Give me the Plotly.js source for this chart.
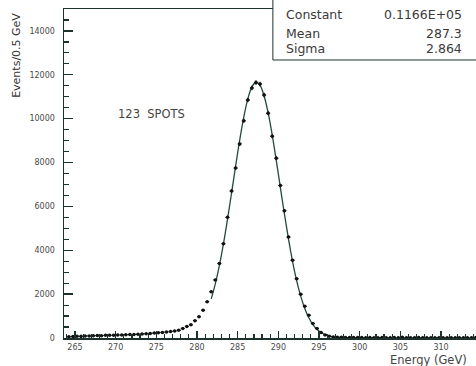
<!DOCTYPE html>
<html>
<head>
<meta charset="utf-8">
<script src="https://cdn.plot.ly/plotly-3.0.1.min.js"></script>
<style>html,body{margin:0;padding:0;background:#fff;}#chart{width:476px;height:366px;}</style>
</head>
<body>
<div id="chart"></div>
<script>
// Histogram bin centres (GeV) and counts per 0.5 GeV
const binCenters = [264.25,264.75,265.25,265.75,266.25,266.75,267.25,267.75,268.25,268.75,
  269.25,269.75,270.25,270.75,271.25,271.75,272.25,272.75,273.25,273.75,
  274.25,274.75,275.25,275.75,276.25,276.75,277.25,277.75,278.25,278.75,
  279.25,279.75,280.25,280.75,281.25,281.75,282.25,282.75,283.25,283.75,
  284.25,284.75,285.25,285.75,286.25,286.75,287.25,287.75,288.25,288.75,
  289.25,289.75,290.25,290.75,291.25,291.75,292.25,292.75,293.25,293.75,
  294.25,294.75,295.25,295.75,296.25,296.75,297.25,297.75,298.25,298.75,
  299.25,299.75,300.25,300.75,301.25,301.75,302.25,302.75,303.25,303.75,
  304.25,304.75,305.25,305.75,306.25,306.75,307.25,307.75,308.25,308.75,
  309.25,309.75,310.25,310.75,311.25,311.75,312.25,312.75,313.25,313.75,314.25];
const counts = [60,70,80,75,90,95,100,110,105,120,
  125,130,140,135,150,155,165,170,185,195,
  210,225,240,255,275,295,320,355,430,530,
  600,790,970,1270,1650,2110,2650,3400,4300,5500,
  6700,7750,8850,9900,10850,11400,11650,11580,11080,10250,
  9200,8200,6950,5800,4600,3550,2700,2000,1450,1040,
  660,430,250,140,80,50,35,30,25,20,
  22,18,20,15,18,16,14,20,15,12,
  18,14,30,16,12,14,25,12,10,14,
  12,10,11,9,12,10,8,10,9,8,10];

// Fitted curve
const fitX = [281.75,282.25,282.75,283.25,283.75,284.25,284.75,285.25,285.75,286.25,
  286.75,287.25,287.75,288.25,288.75,289.25,289.75,290.25,290.75,291.25,
  291.75,292.25,292.75,293.25,293.75,294.25,294.75,295.25,295.75,296.25,297.0,298.0,300.0];
const fitY = [1783,2465,3300,4290,5410,6615,7845,9025,10070,10900,
  11450,11660,11520,11035,10260,9250,8085,6860,5645,4505,
  3487,2620,1907,1348,924,614,396,247,150,88,40,12,0];

// Fit statistics
const statNames = ["Constant","Mean","Sigma"];
const statValues = ["0.1166E+05","287.3","2.864"];

const frameColor = "#1a332c";
const textColor = "#4a4a4a";
const tickFont = {family:"DejaVu Sans", size:8, color:textColor};

const traces = [
  {
    x: fitX, y: fitY, type:"scatter", mode:"lines",
    line:{color:"#234a3d", width:1.3, shape:"spline"},
    hoverinfo:"skip"
  },
  {
    x: binCenters, y: counts, type:"scatter", mode:"markers",
    marker:{color:"#111", size:3.5},
    error_y:{type:"sqrt", visible:true, color:"#111", thickness:1, width:0},
    error_x:{type:"constant", value:0.25, visible:true, color:"#111", thickness:1, width:0}
  }
];

const statShapes = [{
  type:"rect", xref:"paper", yref:"paper",
  x0:0.507, x1:1.05, y0:0.845, y1:1.06,
  fillcolor:"#fff", line:{color:frameColor, width:1}, layer:"above"
}];

const statFont = {family:"DejaVu Sans", size:12.5, color:"#3a3a3a"};
const annotations = [
  {text:"Events/0.5 GeV", xref:"paper", yref:"paper", x:-0.117, y:0.86,
   textangle:-90, showarrow:false, xanchor:"center", yanchor:"middle",
   font:{family:"DejaVu Sans", size:11, color:"#333"}},
  {text:"Energy (GeV)", xref:"paper", yref:"paper", x:0.885, y:-0.066,
   showarrow:false, xanchor:"center", yanchor:"middle",
   font:{family:"DejaVu Sans", size:11.5, color:"#444"}},
  {text:"123  SPOTS", xref:"paper", yref:"paper", x:0.213, y:0.681,
   showarrow:false, xanchor:"center", yanchor:"middle",
   font:{family:"DejaVu Sans", size:11.5, color:"#444"}}
];
const rowY = [0.982, 0.927, 0.879];
statNames.forEach((n,i)=>{
  annotations.push({text:n, xref:"paper", yref:"paper", x:0.534, y:rowY[i],
    showarrow:false, xanchor:"left", yanchor:"middle", font:statFont});
  annotations.push({text:statValues[i], xref:"paper", yref:"paper", x:0.971, y:rowY[i],
    showarrow:false, xanchor:"right", yanchor:"middle", font:statFont});
});

const layout = {
  width:476, height:366,
  margin:{l:64, r:0, t:9, b:28, pad:0},
  paper_bgcolor:"#fff", plot_bgcolor:"#fff",
  showlegend:false,
  xaxis:{
    range:[263.65, 314.3], tickmode:"linear", tick0:265, dtick:5,
    ticks:"inside", ticklen:7, tickcolor:frameColor, tickwidth:1.3,
    minor:{dtick:1, tick0:265, ticks:"inside", ticklen:4, tickcolor:frameColor, tickwidth:1.2, showgrid:false},
    showline:true, linecolor:frameColor, linewidth:1.5, mirror:true,
    showgrid:false, zeroline:false, tickfont:tickFont, ticklabelstandoff:1, tickformat:"d"
  },
  yaxis:{
    range:[0, 15000], tickmode:"linear", tick0:0, dtick:2000,
    ticks:"inside", ticklen:9, tickcolor:frameColor, tickwidth:1.3,
    minor:{dtick:500, tick0:0, ticks:"inside", ticklen:5, tickcolor:frameColor, tickwidth:1.2, showgrid:false},
    showline:true, linecolor:frameColor, linewidth:1.5, mirror:true,
    showgrid:false, zeroline:false, tickfont:tickFont, ticklabelstandoff:6, tickformat:"d"
  },
  shapes: statShapes,
  annotations: annotations
};

Plotly.newPlot("chart", traces, layout, {displayModeBar:false, staticPlot:true});
</script>
</body>
</html>
